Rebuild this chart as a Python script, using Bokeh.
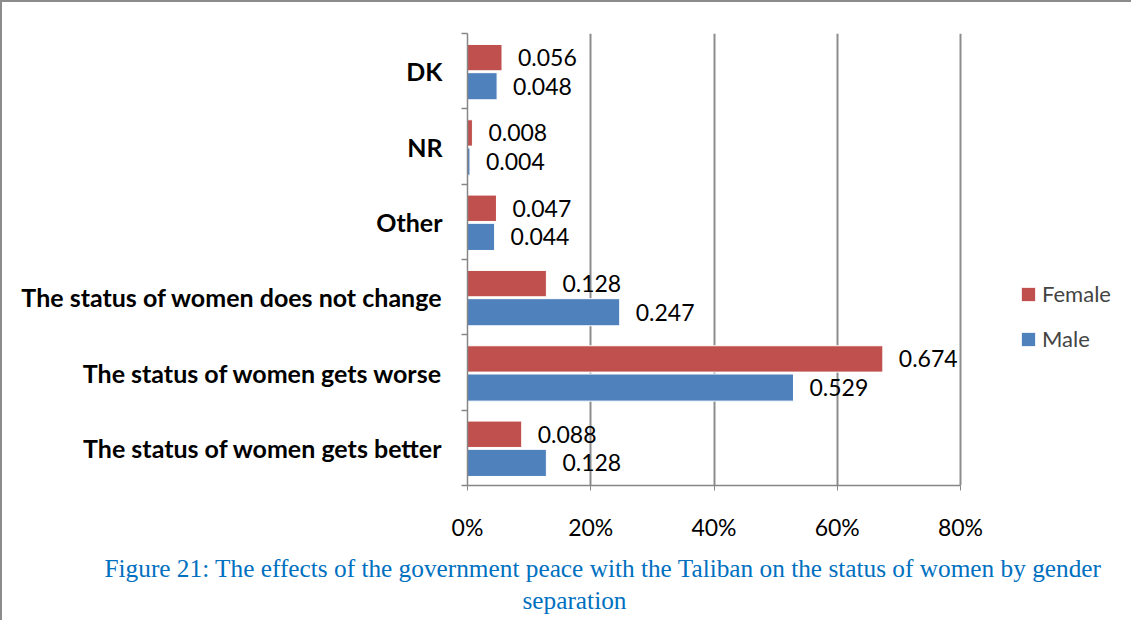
from bokeh.plotting import figure
from bokeh.models import (ColumnDataSource, FixedTicker, LinearAxis, Range1d, LabelSet,
                          Legend, LegendItem, Title, NumeralTickFormatter, Grid)
from bokeh.core.properties import value
from bokeh.embed import file_html
from bokeh.resources import INLINE

# categories from bottom to top
categories = ["The status of women gets better", "The status of women gets worse",
              "The status of women does not change", "Other", "NR", "DK"]
female = [0.088, 0.674, 0.128, 0.047, 0.008, 0.056]
male = [0.128, 0.529, 0.247, 0.044, 0.004, 0.048]
x_ticks = [0, 0.2, 0.4, 0.6, 0.8]
caption1 = "Figure 21: The effects of the government peace with the Taliban on the status of women by gender"
caption2 = "separation"

RED = "#C0504D"
BLUE = "#4F81BD"
FONT = "Lato"

W, H = 1131, 620
BT = 2                        # page frame line thickness
FRAME_L, AXIS_R = 467 - BT, 960 - BT   # pixel position of 0 and of 80%
x_end = x_ticks[-1] * (W - FRAME_L) / (AXIS_R - FRAME_L)

idx = list(range(len(categories)))
src = ColumnDataSource(dict(
    yf=[i + 0.68 for i in idx],
    ym=[i + 0.30 for i in idx],
    female=female, male=male,
    flab=["%.3f" % v for v in female],
    mlab=["%.3f" % v for v in male],
))

p = figure(width=W, height=H, output_backend="svg", toolbar_location=None,
           x_range=Range1d(0, x_end), y_range=Range1d(0, len(categories)),
           min_border_left=FRAME_L, min_border_right=0, min_border_top=33 - BT,
           min_border_bottom=137,
           x_axis_location=None, y_axis_location=None)
p.outline_line_color = None
p.ygrid.visible = False
p.xgrid.visible = False
p.background_fill_color = "white"
p.border_fill_color = "white"
p.styles = {"border-top": "2px solid #8C8C8C", "border-left": "2px solid #8C8C8C"}

# x axis
xaxis = LinearAxis(ticker=FixedTicker(ticks=x_ticks), bounds=(x_ticks[0], x_ticks[-1]),
                   formatter=NumeralTickFormatter(format="0%"))
xaxis.axis_line_color = "#868686"
xaxis.axis_line_width = 1.5
xaxis.major_tick_line_color = "#868686"
xaxis.major_tick_out = 5
xaxis.major_tick_in = 0
xaxis.minor_tick_line_color = None
xaxis.major_label_text_font = FONT
xaxis.major_label_text_font_size = "23px"
xaxis.major_label_text_color = "black"
xaxis.major_label_standoff = 22
p.add_layout(xaxis, "below")

# y axis
yaxis = LinearAxis(ticker=FixedTicker(ticks=[i + 0.5 for i in idx],
                                      minor_ticks=list(range(len(categories) + 1))))
yaxis.major_label_overrides = {i + 0.5: c for i, c in zip(idx, categories)}
yaxis.axis_line_color = "#868686"
yaxis.axis_line_width = 1.5
yaxis.major_tick_line_color = None
yaxis.minor_tick_line_color = "#868686"
yaxis.minor_tick_line_width = 1.5
yaxis.minor_tick_out = 6
yaxis.minor_tick_in = 0
yaxis.major_label_text_font = FONT
yaxis.major_label_text_font_style = "bold"
yaxis.major_label_text_font_size = "25px"
yaxis.major_label_text_color = "black"
yaxis.major_label_standoff = 19
p.add_layout(yaxis, "left")

# vertical grid lines
g = Grid(dimension=0, ticker=FixedTicker(ticks=x_ticks[1:]))
g.grid_line_color = "#8C8C8C"
g.grid_line_width = 2
p.add_layout(g)

rf = p.hbar(y="yf", right="female", left=0, height=0.35, source=src,
            fill_color=RED, line_color="white", line_width=1)
rm = p.hbar(y="ym", right="male", left=0, height=0.36, source=src,
            fill_color=BLUE, line_color="white", line_width=1)

for ycol, xcol, tcol in [("yf", "female", "flab"), ("ym", "male", "mlab")]:
    ls = LabelSet(x=xcol, y=ycol, text=tcol, source=src, x_offset=16,
                  text_font=value(FONT), text_font_size=value("23px"), text_color="black",
                  text_baseline="middle", text_align="left")
    p.add_layout(ls)

legend = Legend(items=[LegendItem(label="Female", renderers=[rf]),
                       LegendItem(label="Male", renderers=[rm])],
                location=(1019 - 467, 483 - 350), orientation="vertical")
legend.glyph_width = 18
legend.glyph_height = 18
legend.label_text_font = FONT
legend.label_text_font_size = "22px"
legend.label_standoff = 5
legend.spacing = 18
legend.padding = 0
legend.margin = 0
legend.border_line_alpha = 0
legend.background_fill_alpha = 0
p.add_layout(legend)

t1 = Title(text=caption1, align="left", offset=104 - 467,
           text_font="Liberation Serif", text_font_size="25.3px", text_font_style="normal",
           text_color="#0070C0", standoff=17)
t2 = Title(text=caption2, align="left", offset=522 - 467,
           text_font="Liberation Serif", text_font_size="25.3px", text_font_style="normal",
           text_color="#0070C0", standoff=-13)
p.add_layout(t1, "below")
p.add_layout(t2, "below")

open("out.html", "w").write(file_html(p, INLINE))
